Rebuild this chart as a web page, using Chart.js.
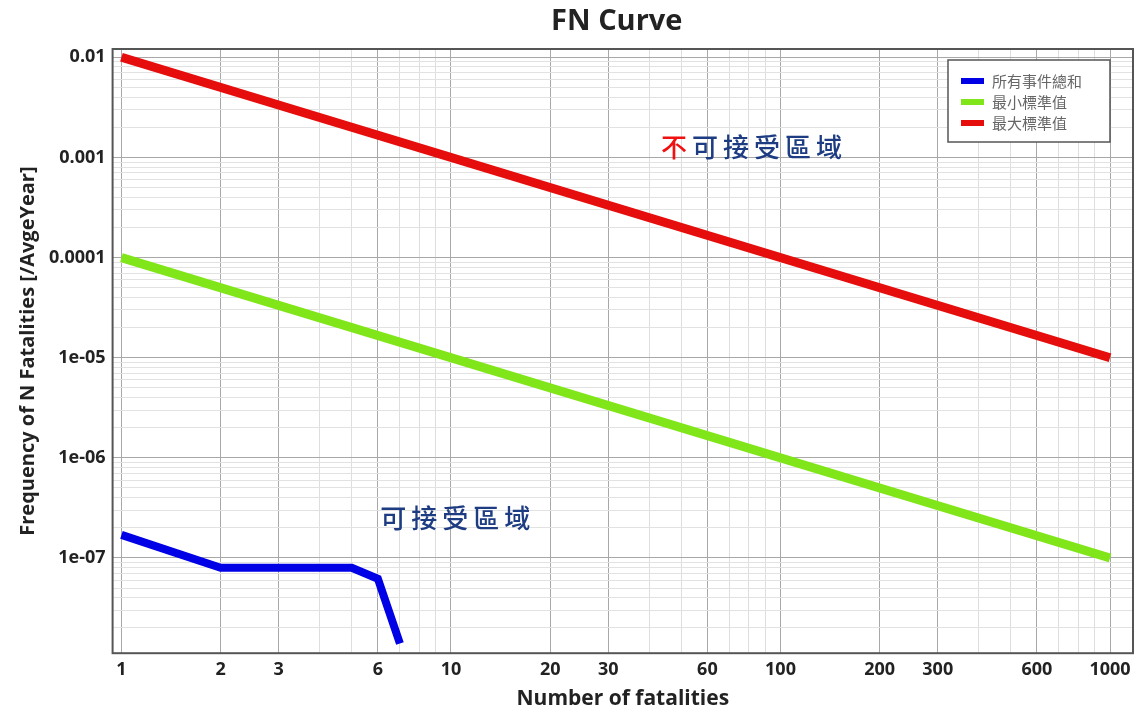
<!DOCTYPE html>
<html>
<head>
<meta charset="utf-8">
<script src="https://cdn.jsdelivr.net/npm/chart.js@4/dist/chart.umd.min.js"></script>
<style>
  html, body { margin: 0; padding: 0; background: #fff; }
  #wrap { width: 1146px; height: 718px; }
</style>
</head>
<body>
<div id="wrap"><canvas id="fnChart" width="1146" height="718"></canvas></div>
<script>
// data
const fatalities = [1, 2, 3, 4, 5, 6, 7];
const allEvents = [1.7e-7, 8.0e-8, 8.0e-8, 8.0e-8, 8.0e-8, 6.2e-8, 1.4e-8];
const limitN = [1, 1000];
const minLimit = [1e-4, 1e-7];
const maxLimit = [1e-2, 1e-5];

const seriesNames = ['所有事件總和', '最小標準值', '最大標準值'];

const xTickLabels = [1, 2, 3, 6, 10, 20, 30, 60, 100, 200, 300, 600, 1000];
const yTickValues = [1e-2, 1e-3, 1e-4, 1e-5, 1e-6, 1e-7];
const yTickLabels = ['0.01', '0.001', '0.0001', '1e-05', '1e-06', '1e-07'];

const xMin = 0.94, xMax = 1174;
const yMin = 1.12e-8, yMax = 0.0121;

function gridValues(lo, hi, kFrom, kTo) {
  const out = [];
  for (let k = kFrom; k <= kTo; k++) {
    for (let m = 1; m <= 9; m++) {
      const v = Number((m * Math.pow(10, k)).toPrecision(3));
      if (v >= lo && v <= hi) out.push(v);
    }
  }
  return out;
}
function isDecade(v) {
  const l = Math.log10(v);
  return Math.abs(l - Math.round(l)) < 1e-9;
}
function yLabel(v) {
  for (let i = 0; i < yTickValues.length; i++) {
    if (Math.abs(v / yTickValues[i] - 1) < 1e-6) return yTickLabels[i];
  }
  return '';
}

const bold = (size) => ({ family: '"Open Sans", "DejaVu Sans", sans-serif', size: size, weight: 'bold' });

// title centred over the plot area
const areaTitle = {
  id: 'areaTitle',
  afterDraw(chart) {
    const a = chart.chartArea, c = chart.ctx;
    c.save();
    c.font = 'bold 29px "Open Sans", sans-serif';
    c.fillStyle = '#222';
    c.textAlign = 'center';
    c.textBaseline = 'middle';
    c.fillText('FN Curve', (a.left + a.right) / 2 - 6, 22);
    c.restore();
  }
};

const plotFrame = {
  id: 'plotFrame',
  afterDatasetsDraw(chart) {
    const a = chart.chartArea, c = chart.ctx;
    c.save();
    c.strokeStyle = '#555';
    c.lineWidth = 2;
    c.strokeRect(a.left, a.top, a.right - a.left, a.bottom - a.top);
    c.restore();
  }
};

const regionText = {
  id: 'regionText',
  afterDatasetsDraw(chart) {
    const c = chart.ctx, xs = chart.scales.x, ys = chart.scales.y;
    c.save();
    c.font = '500 26px "Noto Sans CJK TC"';
    c.letterSpacing = '5px';
    c.textBaseline = 'middle';
    c.textAlign = 'left';
    let x = xs.getPixelForValue(82) - 91;
    let y = ys.getPixelForValue(0.00128);
    c.fillStyle = '#f01010';
    c.fillText('不', x, y);
    x += c.measureText('不').width;
    c.fillStyle = '#1d3c82';
    c.fillText('可接受區域', x, y);
    x = xs.getPixelForValue(10.3) - 75;
    y = ys.getPixelForValue(2.5e-7);
    c.fillText('可接受區域', x, y);
    c.restore();
  }
};

const boxLegend = {
  id: 'boxLegend',
  afterDraw(chart) {
    const a = chart.chartArea, c = chart.ctx;
    const w = 162, h = 82;
    const left = a.right - 23 - w, top = a.top + 11;
    c.save();
    c.fillStyle = '#fff';
    c.fillRect(left, top, w, h);
    c.strokeStyle = '#555';
    c.lineWidth = 1.5;
    c.strokeRect(left, top, w, h);
    c.font = '15px "Noto Sans CJK TC"';
    c.textBaseline = 'middle';
    chart.data.datasets.forEach((ds, i) => {
      const y = top + 21 + i * 21;
      c.fillStyle = ds.borderColor;
      c.fillRect(left + 13, y - 3, 23, 6);
      c.fillStyle = '#666';
      c.fillText(ds.label, left + 44, y);
    });
    c.restore();
  }
};

new Chart(document.getElementById('fnChart'), {
  type: 'line',
  data: {
    datasets: [{
      label: seriesNames[0],
      data: fatalities.map((n, i) => ({ x: n, y: allEvents[i] })),
      borderColor: '#0000e6',
      borderWidth: 8,
      pointRadius: 0,
      borderJoinStyle: 'miter',
      tension: 0
    }, {
      label: seriesNames[1],
      data: limitN.map((n, i) => ({ x: n, y: minLimit[i] })),
      borderColor: '#80e61a',
      borderWidth: 9,
      pointRadius: 0
    }, {
      label: seriesNames[2],
      data: limitN.map((n, i) => ({ x: n, y: maxLimit[i] })),
      borderColor: '#e60d0d',
      borderWidth: 9,
      pointRadius: 0
    }]
  },
  options: {
    responsive: false,
    animation: false,
    layout: { padding: { left: 16, right: 13, top: 49, bottom: 6 } },
    plugins: {
      legend: { display: false },
      tooltip: { enabled: false },
      title: { display: false }
    },
    scales: {
      x: {
        type: 'logarithmic',
        min: xMin,
        max: xMax,
        afterBuildTicks: (scale) => {
          scale.ticks = gridValues(xMin, xMax, 0, 3).map(v => ({ value: v }));
        },
        ticks: {
          autoSkip: false,
          maxRotation: 0,
          color: '#222',
          font: bold(18),
          padding: 6,
          callback: (v) => xTickLabels.includes(v) ? String(v) : ''
        },
        grid: {
          drawTicks: false,
          color: (ctx) => ctx.tick && xTickLabels.includes(ctx.tick.value) ? '#a8a8a8' : '#dedede',
          lineWidth: 1
        },
        border: { display: false },
        title: {
          display: true,
          text: 'Number of fatalities',
          color: '#222',
          font: bold(21),
          padding: { top: 0, bottom: 0 }
        }
      },
      y: {
        type: 'logarithmic',
        min: yMin,
        max: yMax,
        afterBuildTicks: (scale) => {
          scale.ticks = gridValues(yMin, yMax, -8, -2).map(v => ({ value: v }));
        },
        ticks: {
          autoSkip: false,
          color: '#222',
          font: bold(18),
          padding: 7,
          callback: (v) => yLabel(v)
        },
        grid: {
          drawTicks: false,
          color: (ctx) => ctx.tick && isDecade(ctx.tick.value) ? '#a8a8a8' : '#e2e2e2',
          lineWidth: 1
        },
        border: { display: false },
        title: {
          display: true,
          text: 'Frequency of N Fatalities [/AvgeYear]',
          color: '#222',
          font: bold(20),
          padding: { top: 0, bottom: 2 }
        }
      }
    }
  },
  plugins: [areaTitle, plotFrame, regionText, boxLegend]
});
</script>
</body>
</html>
